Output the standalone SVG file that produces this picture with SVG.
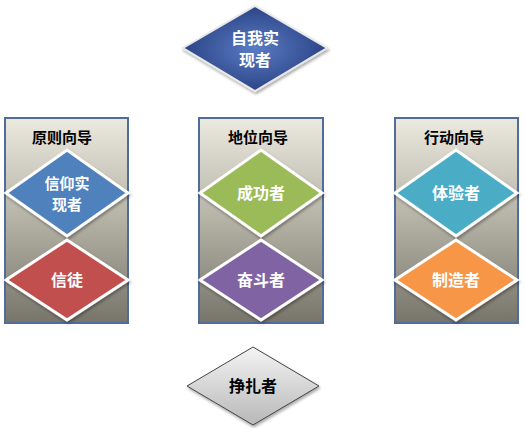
<svg xmlns="http://www.w3.org/2000/svg" width="525" height="428" viewBox="0 0 525 428">
<defs>
<linearGradient id="col" x1="0" y1="0" x2="0" y2="1">
<stop offset="0" stop-color="#ece9df"/>
<stop offset="0.5" stop-color="#b4b1a5"/>
<stop offset="1" stop-color="#77746a"/>
</linearGradient>
<radialGradient id="topg" cx="0.5" cy="0.5" r="0.6">
<stop offset="0" stop-color="#5a7cc4"/>
<stop offset="1" stop-color="#22397a"/>
</radialGradient>
<linearGradient id="greyg" x1="0" y1="0" x2="0" y2="1">
<stop offset="0" stop-color="#f4f4f4"/>
<stop offset="1" stop-color="#b8b8b8"/>
</linearGradient>
<filter id="sh" x="-20%" y="-20%" width="140%" height="140%">
<feDropShadow dx="1" dy="2" stdDeviation="1.5" flood-color="#000" flood-opacity="0.35"/>
</filter>
</defs>
<style>
.box{fill:url(#col);stroke:#4f6c9a;stroke-width:2}
.dia{stroke:#ffffff;stroke-width:3;filter:url(#sh)}
.wt{font-family:"Noto Sans CJK SC","Noto Sans",sans-serif;font-weight:bold;font-size:16px;fill:#ffffff;text-anchor:middle}
.bt{font-family:"Noto Sans CJK SC","Noto Sans",sans-serif;font-weight:bold;font-size:15px;fill:#000000;text-anchor:middle}
.bk{font-family:"Noto Sans CJK SC","Noto Sans",sans-serif;font-weight:bold;font-size:16px;fill:#000000;text-anchor:middle}
</style>
<g id="connectors"/>
<g id="self-actualizer">
<polygon points="255,6 327,48 255,91 183,48" fill="url(#topg)" stroke="#e8e8e8" stroke-width="2" filter="url(#sh)"/>
<text class="wt" x="255" y="44">自我实</text>
<text class="wt" x="255" y="66">现者</text>
</g>
<g id="principle">
<rect class="box" x="5" y="118" width="123" height="205"/>
<text class="bt" x="62" y="143">原则向导</text>
</g>
<g id="believer">
<polygon class="dia" points="67,150 128,193 67,236 6,193" fill="#4f81bd"/>
<text class="wt" x="67" y="189" style="font-size:15px">信仰实</text>
<text class="wt" x="67" y="210" style="font-size:15px">现者</text>
</g>
<g id="follower">
<polygon class="dia" points="67,240 128,280 67,320 6,280" fill="#c0504d"/>
<text class="wt" x="67" y="286">信徒</text>
</g>
<g id="status">
<rect class="box" x="199" y="118" width="124" height="205"/>
<text class="bt" x="258" y="143">地位向导</text>
</g>
<g id="achiever">
<polygon class="dia" points="261,150 322,193 261,236 200,193" fill="#9bbb59"/>
<text class="wt" x="261" y="199">成功者</text>
</g>
<g id="striver">
<polygon class="dia" points="261,240 322,280 261,320 200,280" fill="#8064a2"/>
<text class="wt" x="261" y="286">奋斗者</text>
</g>
<g id="action">
<rect class="box" x="395" y="118" width="123" height="205"/>
<text class="bt" x="454" y="143">行动向导</text>
</g>
<g id="experiencer">
<polygon class="dia" points="456,150 517,193 456,236 395,193" fill="#4bacc6"/>
<text class="wt" x="456" y="199">体验者</text>
</g>
<g id="maker">
<polygon class="dia" points="456,240 517,280 456,320 395,280" fill="#f79646"/>
<text class="wt" x="456" y="286">制造者</text>
</g>
<g id="struggler">
<polygon points="253,347 319,386 253,425 187,386" fill="url(#greyg)" stroke="#444444" stroke-width="1" filter="url(#sh)"/>
<text class="bk" x="253" y="392">挣扎者</text>
</g>
</svg>
